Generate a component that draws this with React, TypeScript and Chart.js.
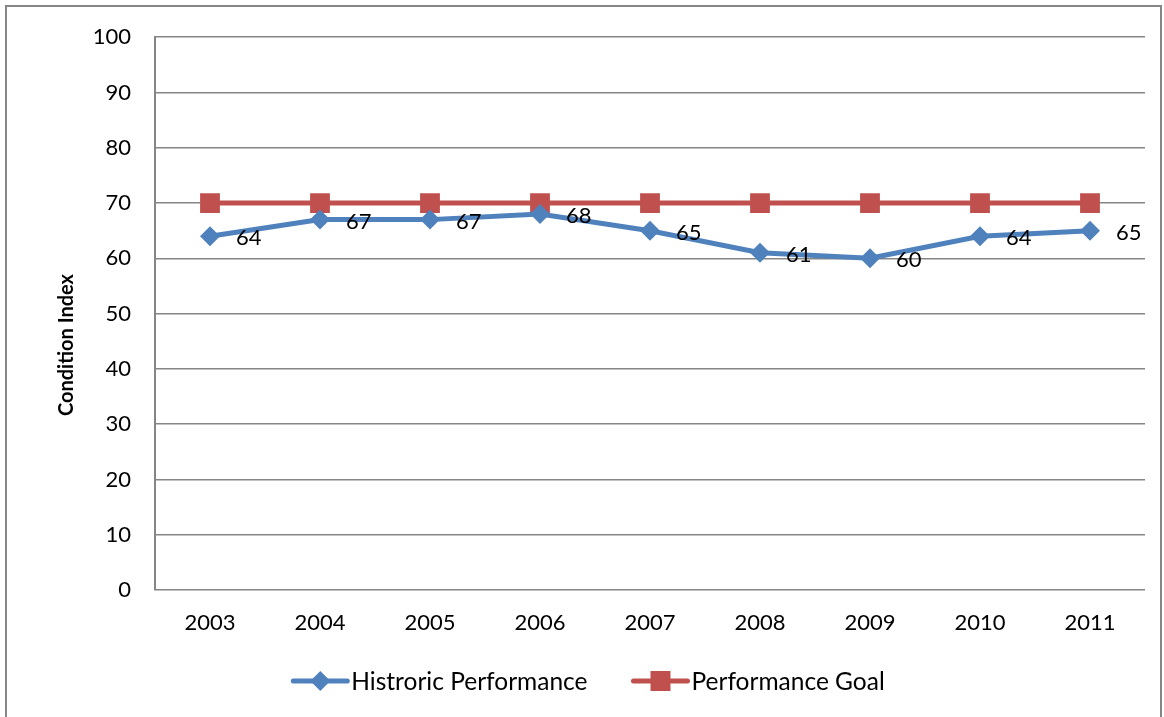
import React, { useEffect, useRef } from "react";
import { Chart, registerables } from "chart.js";

Chart.register(...registerables);

const years = ["2003", "2004", "2005", "2006", "2007", "2008", "2009", "2010", "2011"];
const historic = [64, 67, 67, 68, 65, 61, 60, 64, 65];
const goal = [70, 70, 70, 70, 70, 70, 70, 70, 70];
const seriesNames = ["Histroric Performance", "Performance Goal"];
const yTitle = "Condition Index";

const BLUE = "#4F81BD";
const RED = "#C0504D";
const GRID = "#868686";
const FONT = "Lato";

const framePlugin = {
  id: "frame",
  beforeDraw(chart: any) {
    const ctx = chart.ctx;
    ctx.save();
    ctx.fillStyle = "#ffffff";
    ctx.fillRect(0, 0, chart.width, chart.height);
    ctx.strokeStyle = GRID;
    ctx.lineWidth = 2;
    ctx.strokeRect(6, 6, 1155, 730);
    ctx.restore();
  },
  afterDraw(chart: any) {
    const ctx = chart.ctx;
    ctx.save();
    ctx.translate(67, 345);
    ctx.rotate(-Math.PI / 2);
    ctx.font = `bold 20px ${FONT}`;
    ctx.fillStyle = "#000000";
    ctx.textAlign = "center";
    ctx.textBaseline = "middle";
    ctx.fillText(yTitle, 0, 0);
    ctx.restore();
  },
};

const labelPlugin = {
  id: "pointLabels",
  afterDatasetsDraw(chart: any) {
    const ctx = chart.ctx;
    const meta = chart.getDatasetMeta(0);
    const data = chart.data.datasets[0].data;
    ctx.save();
    ctx.font = `22px ${FONT}`;
    ctx.fillStyle = "#000000";
    ctx.textAlign = "left";
    ctx.textBaseline = "middle";
    meta.data.forEach((el: any, i: number) => {
      ctx.fillText(String(data[i]), el.x + 26, el.y + 2);
    });
    ctx.restore();
  },
};

function drawMarker(ctx: any, style: string, x: number, y: number, color: string) {
  ctx.fillStyle = color;
  ctx.beginPath();
  if (style === "rectRot") {
    const r = 10;
    ctx.moveTo(x - r, y);
    ctx.lineTo(x, y - r);
    ctx.lineTo(x + r, y);
    ctx.lineTo(x, y + r);
    ctx.closePath();
  } else {
    ctx.rect(x - 10, y - 10, 20, 20);
  }
  ctx.fill();
}

const legendPlugin = {
  id: "customLegend",
  afterDraw(chart: any) {
    const ctx = chart.ctx;
    ctx.save();
    ctx.font = `24.5px ${FONT}`;
    const styles = ["rectRot", "rect"];
    const colors = [BLUE, RED];
    const lineW = 58;
    const gapText = 2;
    const gapItems = 44;
    const widths = seriesNames.map((n) => lineW + gapText + ctx.measureText(n).width);
    const total = widths.reduce((a, b) => a + b, 0) + gapItems * (seriesNames.length - 1);
    let x = 588 - total / 2;
    const y = 681;
    seriesNames.forEach((name, i) => {
      ctx.strokeStyle = colors[i];
      ctx.lineWidth = 5;
      ctx.lineCap = "round";
      ctx.beginPath();
      ctx.moveTo(x + 2, y);
      ctx.lineTo(x + lineW - 2, y);
      ctx.stroke();
      drawMarker(ctx, styles[i], x + lineW / 2, y, colors[i]);
      ctx.fillStyle = "#000000";
      ctx.textAlign = "left";
      ctx.textBaseline = "middle";
      ctx.fillText(name, x + lineW + gapText, y + 1);
      x += widths[i] + gapItems;
    });
    ctx.restore();
  },
};

export default function App() {
  const ref = useRef<HTMLCanvasElement | null>(null);
  useEffect(() => {
    if (!ref.current) return;
    const chart = new Chart(ref.current, {
      type: "line",
      data: {
        labels: years,
        datasets: [
          {
            label: seriesNames[0],
            data: historic,
            borderColor: BLUE,
            backgroundColor: BLUE,
            borderWidth: 5,
            pointStyle: "rectRot",
            pointRadius: 10,
            pointBorderWidth: 0,
            tension: 0,
          },
          {
            label: seriesNames[1],
            data: goal,
            borderColor: RED,
            backgroundColor: RED,
            borderWidth: 5,
            pointStyle: "rect",
            pointRadius: 14,
            pointBorderWidth: 0,
            tension: 0,
          },
        ],
      },
      options: {
        animation: false,
        responsive: false,
        layout: { padding: { top: 35, right: 19, bottom: 0, left: 0 } },
        plugins: {
          legend: { display: false },
          tooltip: { enabled: false },
        },
        scales: {
          x: {
            offset: true,
            grid: { display: false, drawTicks: false },
            border: { display: false },
            ticks: { color: "#000", font: { family: FONT, size: 22 }, padding: 20, maxRotation: 0 },
            afterFit: (s: any) => {
              s.height = 127;
            },
          },
          y: {
            min: 0,
            max: 100,
            ticks: { stepSize: 10, color: "#000", font: { family: FONT, size: 22 }, padding: 24 },
            grid: { color: GRID, lineWidth: 1.5, drawTicks: false },
            border: { display: true, color: GRID, width: 2 },
            title: { display: false },
            afterFit: (s: any) => {
              s.width = 155;
            },
          },
        },
      },
      plugins: [framePlugin, labelPlugin, legendPlugin],
    });
    return () => chart.destroy();
  }, []);
  return (
    <div style={{ position: "absolute", left: 0, top: 0, width: 1164, height: 717 }}>
      <canvas ref={ref} width={1164} height={717} style={{ width: 1164, height: 717 }} />
    </div>
  );
}
